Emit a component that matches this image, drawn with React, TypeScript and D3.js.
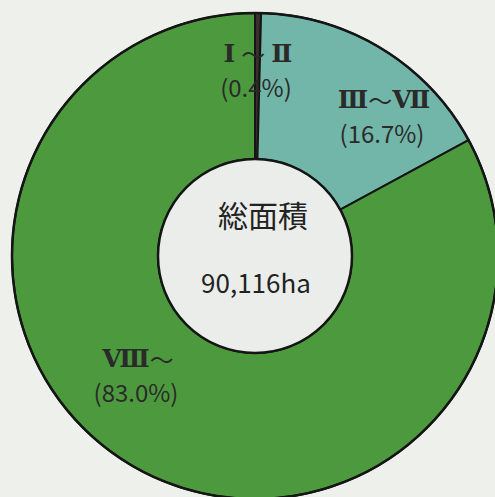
import React from "react";
import * as d3 from "d3";

const categoryParts: [string, string][] = [
  ["Ⅰ", "Ⅱ"],
  ["Ⅲ", "Ⅶ"],
  ["Ⅷ", ""],
];
const shares = [0.4, 16.7, 83.0];
const percentLabels = ["(0.4%)", "(16.7%)", "(83.0%)"];
const colors = ["#3b2f2c", "#72b6a9", "#4d9a3e"];
const centerTitle = "総面積";
const centerValue = "90,116ha";

const W = 495;
const H = 497;
const cx = 255;
const cy = 256;
const outerR = 243;
const innerR = 97;

// label anchor points (hand-placed in the original)
const labelPos: [number, number][] = [
  [258, 53],
  [384, 99],
  [138, 358],
];
const gaps = [6, 0, 0];

export default function App() {
  const pie = d3
    .pie<number>()
    .value((d) => d)
    .sort(null)
    .startAngle(0)
    .endAngle(2 * Math.PI);
  const arcs = pie(shares);
  const arc = d3.arc<d3.PieArcDatum<number>>().innerRadius(innerR).outerRadius(outerR);
  const serif = "'DejaVu Serif', 'Liberation Serif', serif";
  const sans = "'Noto Sans CJK JP', 'Noto Sans', sans-serif";
  return (
    <svg
      width={W}
      height={H}
      style={{ position: "absolute", left: 0, top: 0, background: "#eef0ec" }}
    >
      <rect x={0} y={0} width={W} height={H} fill="#eef0ec" />
      <g transform={`translate(${cx},${cy})`}>
        {arcs.map((a, i) => (
          <path key={i} d={arc(a) || ""} fill={colors[i]} stroke="#151515" strokeWidth={2} />
        ))}
        <circle r={outerR} fill="none" stroke="#151515" strokeWidth={2.5} />
        <circle r={innerR} fill="#ebedea" stroke="#151515" strokeWidth={2.5} />
      </g>
      {categoryParts.map((c, i) => (
        <g key={i}>
          <text
            x={labelPos[i][0]}
            y={labelPos[i][1]}
            textAnchor="middle"
            dominantBaseline="central"
            fill="#2a2a2a"
          >
            <tspan fontFamily={serif} fontWeight="bold" fontSize={25}>
              {c[0]}
            </tspan>
            <tspan fontFamily={sans} fontSize={24} dx={gaps[i]}>
              ～
            </tspan>
            {c[1] ? (
              <tspan fontFamily={serif} fontWeight="bold" fontSize={25} dx={gaps[i]}>
                {c[1]}
              </tspan>
            ) : null}
          </text>
          <text
            x={labelPos[i][0] - 2}
            y={labelPos[i][1] + 33}
            textAnchor="middle"
            dominantBaseline="central"
            fontFamily={sans}
            fontSize={24}
            fill="#2a2a2a"
          >
            {percentLabels[i]}
          </text>
        </g>
      ))}
      <text
        x={263}
        y={214}
        textAnchor="middle"
        dominantBaseline="central"
        fontFamily={sans}
        fontSize={30}
        fill="#222"
      >
        {centerTitle}
      </text>
      <text
        x={256}
        y={281}
        textAnchor="middle"
        dominantBaseline="central"
        fontFamily={sans}
        fontSize={26}
        fill="#222"
      >
        {centerValue}
      </text>
    </svg>
  );
}
